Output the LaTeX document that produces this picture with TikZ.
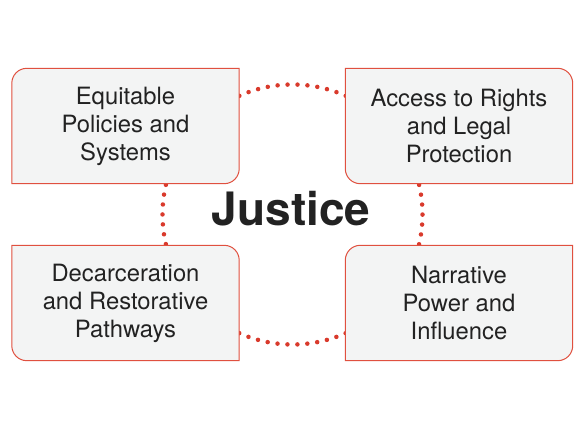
\documentclass[tikz,border=0pt]{standalone}
\usepackage{fontspec}
\setmainfont{TeX Gyre Heros}
\usetikzlibrary{backgrounds}
\definecolor{boxred}{HTML}{E0503F}
\definecolor{dotred}{HTML}{D93A2C}
\definecolor{boxfill}{HTML}{F3F4F4}
\definecolor{textdark}{HTML}{222222}
\tikzset{
  areabox/.style={minimum width=227pt,minimum height=115pt,inner sep=0pt,align=center,
    text=textdark,font=\fontsize{23.8}{28}\selectfont},
  boxline/.style={draw=boxred,fill=boxfill,line width=1pt},
  dotline/.style={draw=dotred,line width=4.5pt,line cap=round,dash pattern=on 0pt off 9.961pt}
}
\begin{document}
\begin{tikzpicture}[x=1pt,y=1pt]
		\useasboundingbox (0,0) rectangle (576,432);
		\coordinate (hub) at (292.5,217.5);
		\node[areabox] (policies) at (125.5,306) {Equitable\\Policies and\\Systems};
		\node[areabox] (rights) at (459,306) {Access to Rights\\and Legal\\Protection};
		\node[areabox] (decarc) at (125.5,129) {Decarceration\\and Restorative\\Pathways};
		\node[areabox] (narrative) at (459,129) {Narrative\\Power and\\Influence};
		\node[font=\fontsize{46}{46}\selectfont\bfseries,text=textdark,anchor=base] (justice) at (291,207) {Justice};
		\begin{pgfonlayer}{background}
		\draw[dotline] (hub) circle[radius=130];
		% boxes: rounded top left and bottom right
		\draw[boxline] ([yshift=-15pt]policies.north west) arc[start angle=180,end angle=90,radius=15pt] -- (policies.north east)
			-- ([yshift=15pt]policies.south east) arc[start angle=0,end angle=-90,radius=15pt] -- (policies.south west) -- cycle;
		\draw[boxline] ([yshift=-15pt]narrative.north west) arc[start angle=180,end angle=90,radius=15pt] -- (narrative.north east)
			-- ([yshift=15pt]narrative.south east) arc[start angle=0,end angle=-90,radius=15pt] -- (narrative.south west) -- cycle;
		% boxes: rounded top right and bottom left
		\draw[boxline] ([xshift=-15pt]rights.north east) arc[start angle=90,end angle=0,radius=15pt] -- (rights.south east)
			-- ([xshift=15pt]rights.south west) arc[start angle=270,end angle=180,radius=15pt] -- (rights.north west) -- cycle;
		\draw[boxline] ([xshift=-15pt]decarc.north east) arc[start angle=90,end angle=0,radius=15pt] -- (decarc.south east)
			-- ([xshift=15pt]decarc.south west) arc[start angle=270,end angle=180,radius=15pt] -- (decarc.north west) -- cycle;
		\end{pgfonlayer}
\end{tikzpicture}
\end{document}
